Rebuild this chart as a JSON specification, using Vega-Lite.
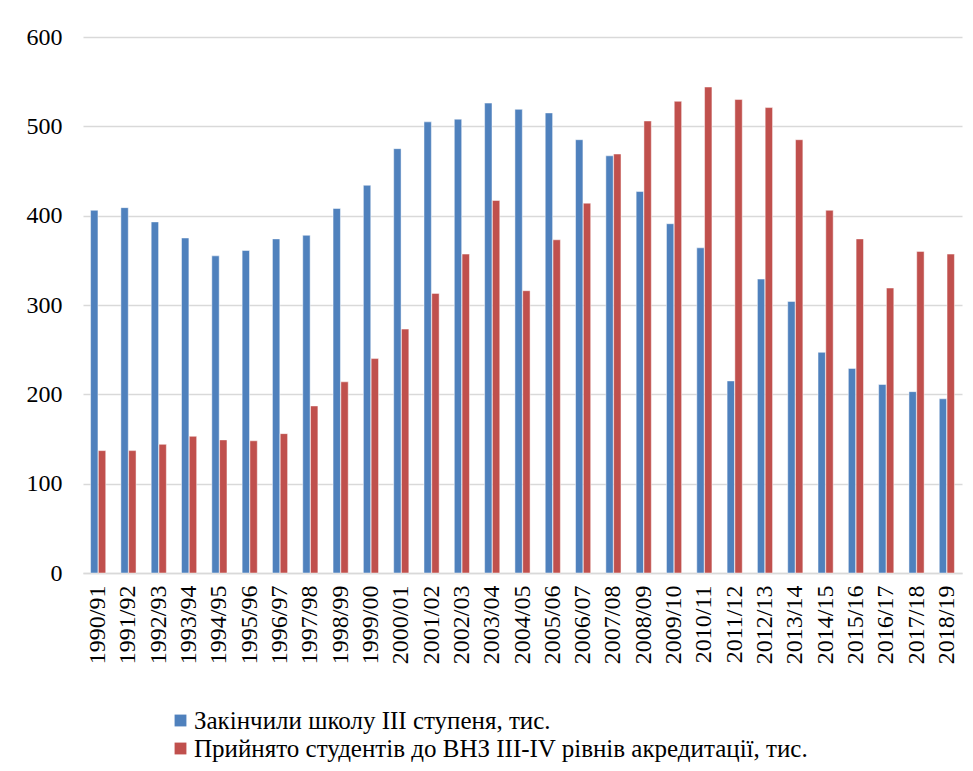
{
  "$schema": "https://vega.github.io/schema/vega-lite/v6.json",
  "autosize": {"type": "none"},
  "width": 879,
  "height": 536,
  "padding": {"left": 83, "top": 37, "right": 11, "bottom": 198},
  "background": "#ffffff",
  "config": {
    "font": "Liberation Serif",
    "view": {"stroke": null}
  },
  "data": {
    "values": [
      {"year": "1990/91", "s": "Закінчили школу ІІІ ступеня, тис.", "v": 406},
      {"year": "1991/92", "s": "Закінчили школу ІІІ ступеня, тис.", "v": 409},
      {"year": "1992/93", "s": "Закінчили школу ІІІ ступеня, тис.", "v": 393},
      {"year": "1993/94", "s": "Закінчили школу ІІІ ступеня, тис.", "v": 375},
      {"year": "1994/95", "s": "Закінчили школу ІІІ ступеня, тис.", "v": 355},
      {"year": "1995/96", "s": "Закінчили школу ІІІ ступеня, тис.", "v": 361},
      {"year": "1996/97", "s": "Закінчили школу ІІІ ступеня, тис.", "v": 374},
      {"year": "1997/98", "s": "Закінчили школу ІІІ ступеня, тис.", "v": 378},
      {"year": "1998/99", "s": "Закінчили школу ІІІ ступеня, тис.", "v": 408},
      {"year": "1999/00", "s": "Закінчили школу ІІІ ступеня, тис.", "v": 434},
      {"year": "2000/01", "s": "Закінчили школу ІІІ ступеня, тис.", "v": 475},
      {"year": "2001/02", "s": "Закінчили школу ІІІ ступеня, тис.", "v": 505},
      {"year": "2002/03", "s": "Закінчили школу ІІІ ступеня, тис.", "v": 508},
      {"year": "2003/04", "s": "Закінчили школу ІІІ ступеня, тис.", "v": 526},
      {"year": "2004/05", "s": "Закінчили школу ІІІ ступеня, тис.", "v": 519},
      {"year": "2005/06", "s": "Закінчили школу ІІІ ступеня, тис.", "v": 515},
      {"year": "2006/07", "s": "Закінчили школу ІІІ ступеня, тис.", "v": 485},
      {"year": "2007/08", "s": "Закінчили школу ІІІ ступеня, тис.", "v": 467},
      {"year": "2008/09", "s": "Закінчили школу ІІІ ступеня, тис.", "v": 427},
      {"year": "2009/10", "s": "Закінчили школу ІІІ ступеня, тис.", "v": 391},
      {"year": "2010/11", "s": "Закінчили школу ІІІ ступеня, тис.", "v": 364},
      {"year": "2011/12", "s": "Закінчили школу ІІІ ступеня, тис.", "v": 215},
      {"year": "2012/13", "s": "Закінчили школу ІІІ ступеня, тис.", "v": 329},
      {"year": "2013/14", "s": "Закінчили школу ІІІ ступеня, тис.", "v": 304},
      {"year": "2014/15", "s": "Закінчили школу ІІІ ступеня, тис.", "v": 247},
      {"year": "2015/16", "s": "Закінчили школу ІІІ ступеня, тис.", "v": 229},
      {"year": "2016/17", "s": "Закінчили школу ІІІ ступеня, тис.", "v": 211},
      {"year": "2017/18", "s": "Закінчили школу ІІІ ступеня, тис.", "v": 203},
      {"year": "2018/19", "s": "Закінчили школу ІІІ ступеня, тис.", "v": 195},
      {"year": "1990/91", "s": "Прийнято студентів до ВНЗ ІІІ-IV рівнів акредитації, тис.", "v": 137},
      {"year": "1991/92", "s": "Прийнято студентів до ВНЗ ІІІ-IV рівнів акредитації, тис.", "v": 137},
      {"year": "1992/93", "s": "Прийнято студентів до ВНЗ ІІІ-IV рівнів акредитації, тис.", "v": 144},
      {"year": "1993/94", "s": "Прийнято студентів до ВНЗ ІІІ-IV рівнів акредитації, тис.", "v": 153},
      {"year": "1994/95", "s": "Прийнято студентів до ВНЗ ІІІ-IV рівнів акредитації, тис.", "v": 149},
      {"year": "1995/96", "s": "Прийнято студентів до ВНЗ ІІІ-IV рівнів акредитації, тис.", "v": 148},
      {"year": "1996/97", "s": "Прийнято студентів до ВНЗ ІІІ-IV рівнів акредитації, тис.", "v": 156},
      {"year": "1997/98", "s": "Прийнято студентів до ВНЗ ІІІ-IV рівнів акредитації, тис.", "v": 187},
      {"year": "1998/99", "s": "Прийнято студентів до ВНЗ ІІІ-IV рівнів акредитації, тис.", "v": 214},
      {"year": "1999/00", "s": "Прийнято студентів до ВНЗ ІІІ-IV рівнів акредитації, тис.", "v": 240},
      {"year": "2000/01", "s": "Прийнято студентів до ВНЗ ІІІ-IV рівнів акредитації, тис.", "v": 273},
      {"year": "2001/02", "s": "Прийнято студентів до ВНЗ ІІІ-IV рівнів акредитації, тис.", "v": 313},
      {"year": "2002/03", "s": "Прийнято студентів до ВНЗ ІІІ-IV рівнів акредитації, тис.", "v": 357},
      {"year": "2003/04", "s": "Прийнято студентів до ВНЗ ІІІ-IV рівнів акредитації, тис.", "v": 417},
      {"year": "2004/05", "s": "Прийнято студентів до ВНЗ ІІІ-IV рівнів акредитації, тис.", "v": 316},
      {"year": "2005/06", "s": "Прийнято студентів до ВНЗ ІІІ-IV рівнів акредитації, тис.", "v": 373},
      {"year": "2006/07", "s": "Прийнято студентів до ВНЗ ІІІ-IV рівнів акредитації, тис.", "v": 414},
      {"year": "2007/08", "s": "Прийнято студентів до ВНЗ ІІІ-IV рівнів акредитації, тис.", "v": 469},
      {"year": "2008/09", "s": "Прийнято студентів до ВНЗ ІІІ-IV рівнів акредитації, тис.", "v": 506},
      {"year": "2009/10", "s": "Прийнято студентів до ВНЗ ІІІ-IV рівнів акредитації, тис.", "v": 528},
      {"year": "2010/11", "s": "Прийнято студентів до ВНЗ ІІІ-IV рівнів акредитації, тис.", "v": 544},
      {"year": "2011/12", "s": "Прийнято студентів до ВНЗ ІІІ-IV рівнів акредитації, тис.", "v": 530},
      {"year": "2012/13", "s": "Прийнято студентів до ВНЗ ІІІ-IV рівнів акредитації, тис.", "v": 521},
      {"year": "2013/14", "s": "Прийнято студентів до ВНЗ ІІІ-IV рівнів акредитації, тис.", "v": 485},
      {"year": "2014/15", "s": "Прийнято студентів до ВНЗ ІІІ-IV рівнів акредитації, тис.", "v": 406},
      {"year": "2015/16", "s": "Прийнято студентів до ВНЗ ІІІ-IV рівнів акредитації, тис.", "v": 374},
      {"year": "2016/17", "s": "Прийнято студентів до ВНЗ ІІІ-IV рівнів акредитації, тис.", "v": 319},
      {"year": "2017/18", "s": "Прийнято студентів до ВНЗ ІІІ-IV рівнів акредитації, тис.", "v": 360},
      {"year": "2018/19", "s": "Прийнято студентів до ВНЗ ІІІ-IV рівнів акредитації, тис.", "v": 357}
    ]
  },
  "mark": {"type": "bar", "stroke": "#ffffff", "strokeWidth": 0.8, "strokeOpacity": 0.6},
  "encoding": {
    "x": {
      "field": "year", "type": "nominal", "sort": null,
      "scale": {"paddingInner": 0.5, "paddingOuter": 0.25},
      "axis": {
        "title": null, "labelAngle": -90, "labelFontSize": 24, "labelColor": "#000000",
        "labelFont": "Liberation Serif", "labelPadding": 12,
        "ticks": false, "domainColor": "#d9d9d9", "domainWidth": 1.5
      }
    },
    "xOffset": {"field": "s", "type": "nominal", "sort": null, "scale": {"paddingInner": 0.05}},
    "y": {
      "field": "v", "type": "quantitative",
      "scale": {"domain": [0, 600], "nice": false},
      "axis": {
        "title": null, "values": [0, 100, 200, 300, 400, 500, 600],
        "labelFontSize": 24, "labelColor": "#000000", "labelFont": "Liberation Serif",
        "labelPadding": 21, "ticks": false, "domain": false,
        "gridColor": "#d9d9d9", "gridWidth": 1.5
      }
    },
    "color": {
      "field": "s", "type": "nominal", "sort": null,
      "scale": {"range": ["#4F81BD", "#C0504D"]},
      "legend": {
        "title": null, "orient": "none", "legendX": 85, "legendY": 671,
        "direction": "vertical", "symbolType": "square", "symbolSize": 140,
        "symbolStrokeWidth": 0, "labelFontSize": 25, "labelFont": "Liberation Serif",
        "labelColor": "#000000", "rowPadding": 2, "labelOffset": 1, "labelLimit": 800
      }
    }
  }
}
